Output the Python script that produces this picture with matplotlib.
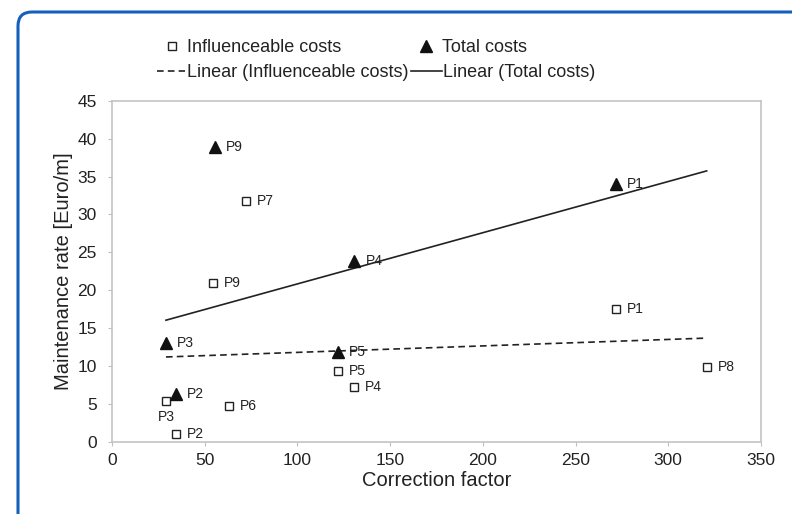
import numpy as np
import matplotlib
matplotlib.use("Agg")
import matplotlib.pyplot as plt
from matplotlib.patches import FancyBboxPatch
from matplotlib.transforms import IdentityTransform

plt.rcParams['font.family'] = ['Liberation Sans', 'DejaVu Sans']

# influenceable costs, projects P1..P9
infl_labels = ["P1", "P2", "P3", "P4", "P5", "P6", "P7", "P8", "P9"]
infl_x = [271.8, 34.6, 29.1, 130.6, 121.8, 63.2, 72.3, 320.7, 54.6]
infl_y = [17.5, 1.0, 5.4, 7.2, 9.3, 4.7, 31.8, 9.8, 21.0]

# total costs (only six projects have a value)
total_labels = ["P1", "P2", "P3", "P4", "P5", "P9"]
total_x = [271.8, 34.6, 29.1, 130.7, 121.8, 55.3]
total_y = [34.0, 6.3, 13.0, 23.9, 11.8, 38.9]

xticks = [0, 50, 100, 150, 200, 250, 300, 350]
yticks = [0, 5, 10, 15, 20, 25, 30, 35, 40, 45]

fig = plt.figure(figsize=(7.92, 5.14), dpi=100)
ax = fig.add_axes([112 / 792, 1 - 441.5 / 514, 649 / 792, 340.5 / 514])

sq, = ax.plot(infl_x, infl_y, ls='none', marker='s', ms=6, mfc='white',
              mec='#222222', mew=1.0, zorder=4)
tri, = ax.plot(total_x, total_y, ls='none', marker='^', ms=8, color='#111111',
               zorder=5)

# linear trendlines over the full x range of the data
xr = np.array([min(infl_x + total_x), max(infl_x + total_x)])
k1, b1 = np.polyfit(infl_x, infl_y, 1)
k2, b2 = np.polyfit(total_x, total_y, 1)
dl, = ax.plot(xr, k1 * xr + b1, color='#222222', lw=1.2, dashes=(4, 2.5), zorder=3)
sl, = ax.plot(xr, k2 * xr + b2, color='#222222', lw=1.2, zorder=3)

for lab, x, y in zip(infl_labels, infl_x, infl_y):
    if lab == "P3":
        ax.annotate(lab, (x, y), xytext=(0, -11.5), textcoords='offset points',
                    ha='center', va='center', fontsize=10, color='#222222')
    else:
        ax.annotate(lab, (x, y), xytext=(8, 0), textcoords='offset points',
                    ha='left', va='center', fontsize=10, color='#222222')
for lab, x, y in zip(total_labels, total_x, total_y):
    ax.annotate(lab, (x, y), xytext=(8, 0), textcoords='offset points',
                ha='left', va='center', fontsize=10, color='#222222')

ax.set_xlim(0, 350)
ax.set_ylim(0, 45)
ax.set_xticks(xticks)
ax.set_yticks(yticks)
ax.tick_params(direction='out', length=3, color='#bfbfbf', labelsize=12.5,
               labelcolor='#222222')
ax.tick_params(axis='x', pad=5.5)
ax.tick_params(axis='y', pad=8)
for s in ax.spines.values():
    s.set_color('#c4c4c4')
    s.set_linewidth(1.2)
ax.set_xlabel("Correction factor", fontsize=14.5, color='#222222', labelpad=2)
ax.set_ylabel("Maintenance rate [Euro/m]", fontsize=14.5, color='#222222', labelpad=3)

# legend entries placed like the original (flowed) legend
def put(h, text, x, y, hl, pad):
    fig.legend(handles=[h], labels=[text], loc='center left',
               bbox_to_anchor=(x / 792, 1 - y / 514), frameon=False,
               fontsize=13, handlelength=hl, handletextpad=pad,
               borderpad=0, borderaxespad=0, labelcolor='#222222')

put(sq, "Influenceable costs", 161, 48, 1.2, 0.23)
put(tri, "Total costs", 415, 48, 1.2, 0.27)
put(dl, "Linear (Influenceable costs)", 157, 73, 1.57, 0.09)
put(sl, "Linear (Total costs)", 411, 73, 1.72, 0.07)

border = FancyBboxPatch((18, -30), 800, 532, boxstyle="round,pad=0,rounding_size=14",
                        transform=IdentityTransform(), fill=False,
                        ec='#1560bd', lw=2.2)
fig.add_artist(border)

fig.savefig("out.png", dpi=100)
